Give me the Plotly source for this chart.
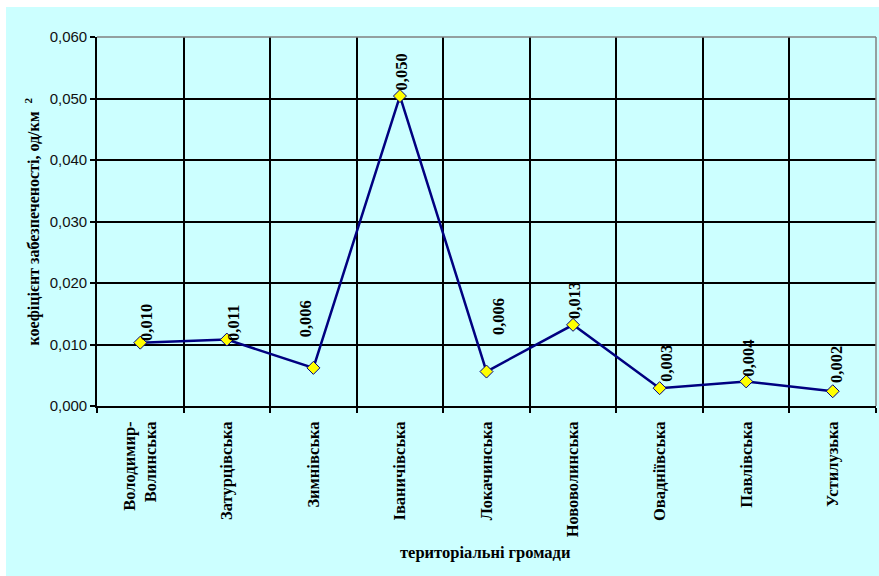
import plotly.graph_objects as go

# Territorial communities and their coefficient of provision, units/km²
communities = [
    "Володимир-<br>Волинська",
    "Затурцівська",
    "Зимнівська",
    "Іваничівська",
    "Локачинська",
    "Нововолинська",
    "Овадніївська",
    "Павлівська",
    "Устилузька",
]
coefficients = [0.0103, 0.0108, 0.0062, 0.0504, 0.0056, 0.0132, 0.0029, 0.0040, 0.0024]

y_ticks = [0.0, 0.01, 0.02, 0.03, 0.04, 0.05, 0.06]
y_tick_text = ["0,000", "0,010", "0,020", "0,030", "0,040", "0,050", "0,060"]

# pixel offsets (x, y) of each value label relative to its marker
label_shifts = [(6, 20), (6.5, 17), (-8, 49), (1.5, 24), (12, 55),
                (2, 24), (7, 25), (2, 23), (4, 27)]

BG = "#CCFFFF"
NAVY = "#000080"
SERIF = "Liberation Serif, Times New Roman, serif"
SANS = "Liberation Sans, Arial, sans-serif"

W, H = 879, 576
L, R, T, B = 97, 3, 37, 170
pw, ph = W - L - R, H - T - B

fig = go.Figure()
fig.add_trace(go.Scatter(
    x=communities,
    y=coefficients,
    mode="lines+markers",
    line=dict(color=NAVY, width=2.5),
    marker=dict(symbol="diamond", size=10, color="#FFFF00",
                line=dict(color=NAVY, width=1)),
    hoverinfo="skip",
    showlegend=False,
))

annotations = []
for cat, val, (dx, dy) in zip(communities, coefficients, label_shifts):
    annotations.append(dict(
        x=cat, y=val, xref="x", yref="y",
        text=f"{val:.3f}".replace(".", ","),
        textangle=-90, showarrow=False,
        xanchor="center", yanchor="middle",
        xshift=dx, yshift=dy,
        font=dict(family=SERIF, size=16.5, color="black", weight="bold"),
    ))

# axis titles
annotations.append(dict(
    x=(33 - L) / pw, y=0.5, xref="paper", yref="paper",
    text="коефіцієнт забезпеченості, од/км &nbsp;<sup>2</sup>",
    textangle=-90, showarrow=False, xanchor="center", yanchor="middle",
    font=dict(family=SERIF, size=16, color="black", weight="bold"),
))
annotations.append(dict(
    x=(485 - L) / pw, y=(406 - 552) / ph, xref="paper", yref="paper",
    text="територіальні громади", showarrow=False,
    xanchor="center", yanchor="middle",
    font=dict(family=SERIF, size=16.5, color="black", weight="bold"),
))

shapes = [
    # light cyan chart area with a thin white margin at top-left
    dict(type="rect", xref="paper", yref="paper", layer="below",
         x0=(6 - L) / pw, x1=1.2, y0=-0.6, y1=(406 - 7) / ph,
         fillcolor=BG, line=dict(width=0)),
    # grey frame on the top and right of the plot area
    dict(type="line", xref="paper", yref="paper", x0=0, x1=1, y0=1, y1=1,
         line=dict(color="#808080", width=1.5)),
    dict(type="line", xref="paper", yref="paper", x0=1, x1=1, y0=0, y1=1,
         line=dict(color="#808080", width=1.5)),
]

fig.update_layout(
    width=W, height=H, autosize=False,
    margin=dict(l=L, r=R, t=T, b=B, pad=0),
    paper_bgcolor="white",
    plot_bgcolor=BG,
    annotations=annotations,
    shapes=shapes,
    xaxis=dict(
        type="category",
        range=[-0.5, len(communities) - 0.5],
        tickson="boundaries",
        ticks="outside", ticklen=5, tickcolor="black", tickwidth=1.5,
        showgrid=True, gridcolor="black", gridwidth=1.6,
        showline=True, linecolor="black", linewidth=1.6,
        tickangle=-90,
        ticklabelstandoff=7,
        tickfont=dict(family=SERIF, size=16.5, color="black", weight="bold"),
        fixedrange=True,
    ),
    yaxis=dict(
        range=[0, 0.06],
        tickvals=y_ticks, ticktext=y_tick_text,
        ticks="outside", ticklen=5, tickcolor="black", tickwidth=1.5,
        showgrid=True, gridcolor="black", gridwidth=1.6,
        showline=True, linecolor="black", linewidth=1.6,
        zeroline=False,
        tickfont=dict(family=SANS, size=15, color="#111111"),
        fixedrange=True,
    ),
)

fig.write_html("out.html")
